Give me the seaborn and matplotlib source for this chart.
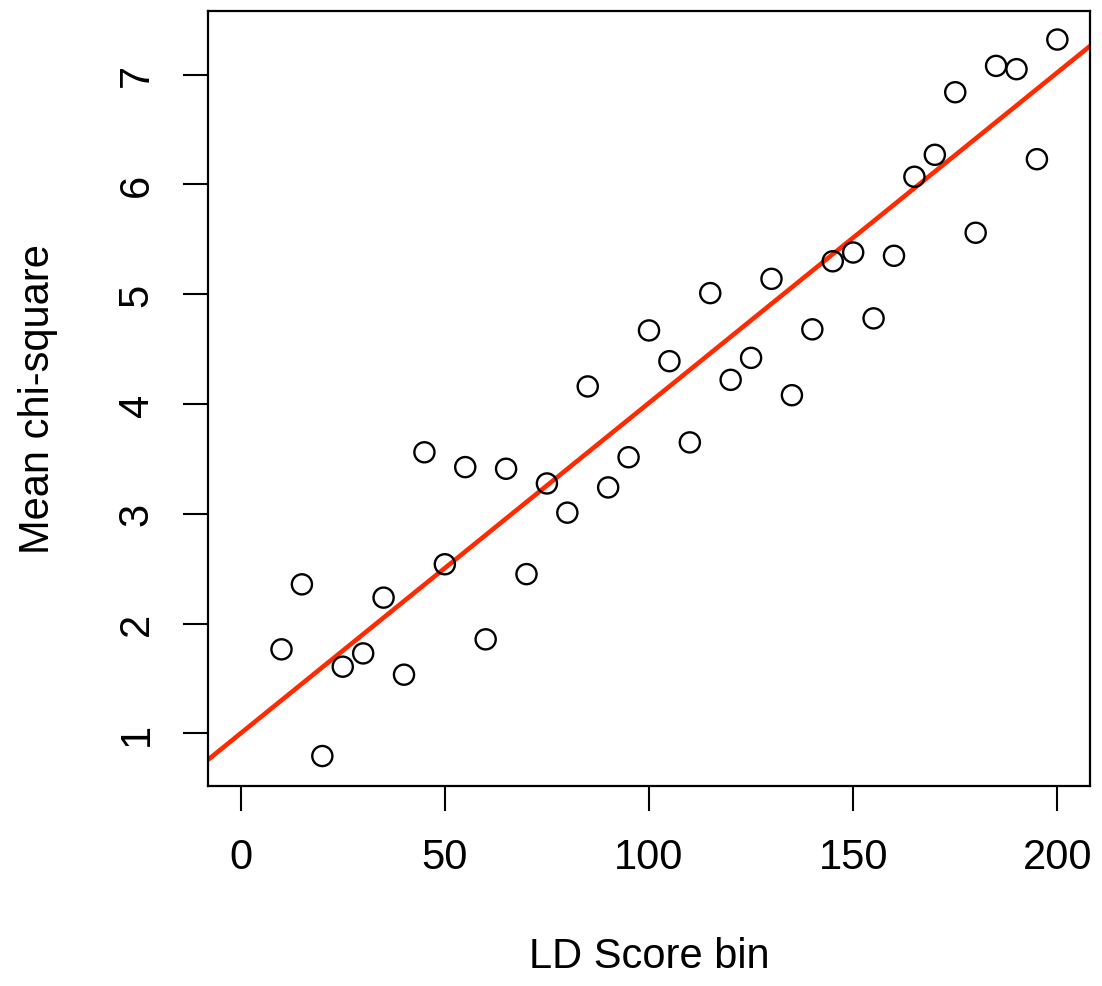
import numpy as np
import pandas as pd
import matplotlib
matplotlib.use("Agg")
import matplotlib.pyplot as plt
import seaborn as sns

ld_bins = list(range(10, 201, 5))
mean_chisq = [1.765, 2.357, 0.793, 1.607, 1.728, 2.236, 1.534, 3.56, 2.54, 3.425,
              1.856, 3.41, 2.45, 3.276, 3.01, 4.16, 3.24, 3.515, 4.67, 4.39,
              3.65, 5.01, 4.22, 4.42, 5.14, 4.08, 4.68, 5.30, 5.38, 4.78,
              5.35, 6.07, 6.27, 6.84, 5.56, 7.08, 7.05, 6.23, 7.32]
x_ticks = [0, 50, 100, 150, 200]
y_ticks = [1, 2, 3, 4, 5, 6, 7]
fit_intercept = 1.0
fit_slope = 0.0301

df = pd.DataFrame({"LD Score bin": ld_bins, "Mean chi-square": mean_chisq})

sns.set_style("white")
plt.rcParams["font.family"] = ["Liberation Sans", "DejaVu Sans"]
plt.rcParams["text.color"] = "black"
plt.rcParams["axes.labelcolor"] = "black"

fig = plt.figure(figsize=(11.02, 9.87), dpi=100)
ax = fig.add_axes([208 / 1102, 1 - 787 / 987, (1090 - 208) / 1102, (787 - 12) / 987])

sns.scatterplot(data=df, x="LD Score bin", y="Mean chi-square", ax=ax,
                marker="o", s=210, facecolor="none", edgecolor="black",
                linewidth=1.7, zorder=3)
ax.axline((0, fit_intercept), slope=fit_slope, color="#ff2a00", lw=3.3, zorder=2)
ax.set_xlim(-8, 208)
ax.set_ylim(0.52, 7.58)

ax.set_xticks(x_ticks)
ax.set_yticks(y_ticks)
ax.set_xticklabels([str(v) for v in x_ticks])
ax.set_yticklabels([str(v) for v in y_ticks], rotation=90, va="center")
ax.tick_params(axis="both", direction="out", length=18, width=1.5,
               labelsize=30, pad=19, colors="black", left=True, bottom=True)

for sp in ax.spines.values():
    sp.set_visible(True)
    sp.set_color("black")
    sp.set_linewidth(1.6)

ax.set_xlabel("LD Score bin", fontsize=30, color="black")
ax.set_ylabel("Mean chi-square", fontsize=30, color="black")
ax.xaxis.set_label_coords(0.5, (787 - 937) / 775)
ax.yaxis.set_label_coords((58 - 208) / 882, 0.5)

fig.savefig("out.png", dpi=100, facecolor="white")
